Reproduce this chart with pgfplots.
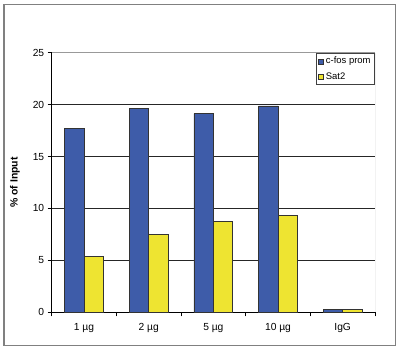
\documentclass[border=0pt]{standalone}
\usepackage{pgfplots}
\pgfplotsset{compat=1.18}
\usepackage{fontspec}
\setmainfont{Liberation Sans}
\definecolor{barblue}{HTML}{3E5CA9}
\definecolor{baryellow}{HTML}{EEE431}
\begin{document}
\begin{tikzpicture}[x=1bp,y=1bp]
\path[use as bounding box] (0,0) rectangle (400,351);
\draw[black!50, line width=1.5bp] (4,5.3) rectangle (395.5,346.7);
\begin{axis}[
  at={(51.7bp,38.7bp)}, anchor=south west,
  scale only axis, width=323.3bp, height=259.6bp,
  xmin=-0.5, xmax=4.5, ymin=0, ymax=25,
  axis x line*=bottom, axis y line*=left,
  axis line style={-, black, line width=0.8bp},
  xtick={0,1,2,3,4},
  xticklabels={1 µg, 2 µg, 5 µg, 10 µg, IgG},
  xticklabel style={yshift=-4bp},
  minor xtick={-0.5,0.5,1.5,2.5,3.5,4.5},
  every major x tick/.style={draw=none},
  every minor x tick/.style={black, line width=0.8bp},
  ytick={0,5,10,15,20},
  extra y ticks={25},
  extra y tick style={major grid style={black!40, line width=0.8bp}},
  every major y tick/.style={black, line width=0.8bp},
  tick align=outside,
  major tick length=4bp, minor tick length=4bp,
  ymajorgrids,
  major grid style={black!85, line width=0.8bp},
  /pgf/number format/assume math mode=true,
  tick label style={font=\fontsize{10.3}{12}\selectfont},
  ylabel={\textbf{\% of Input}},
  ylabel style={at={(axis description cs:-0.1135,0.5)}, anchor=center, font=\fontsize{10.5}{12}\selectfont},
  legend style={at={(1,1)}, anchor=north east, draw=black!75, line width=0.8bp,
    font=\fontsize{9.5}{11}\selectfont, cells={anchor=west}, inner xsep=2bp, inner ysep=2bp, row sep=3bp},
  legend image code/.code={\draw[#1, line width=0.5bp] (0bp,-2.5bp) rectangle (5bp,2.5bp);},
]
\addplot[ybar, bar width=0.3, bar shift=-0.15, fill=barblue, draw=black!80, line width=0.6bp]
  coordinates {(0,17.72) (1,19.65) (2,19.13) (3,19.87) (4,0.29)};
\addplot[ybar, bar width=0.3, bar shift=0.15, fill=baryellow, draw=black!80, line width=0.6bp]
  coordinates {(0,5.42) (1,7.51) (2,8.73) (3,9.34) (4,0.25)};
\legend{c-fos prom, Sat2}
\draw[black!40, line width=0.8bp] (rel axis cs:1,0) -- (rel axis cs:1,1);
\end{axis}
\end{tikzpicture}
\end{document}
